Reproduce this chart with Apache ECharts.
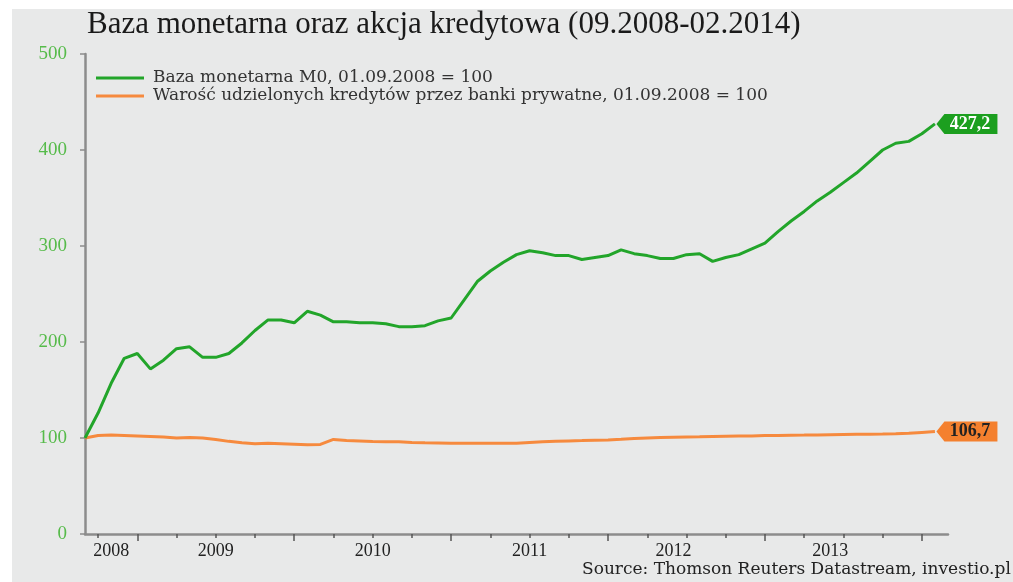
<!DOCTYPE html>
<html>
<head>
<meta charset="utf-8">
<script src="https://cdn.jsdelivr.net/npm/echarts@6/dist/echarts.min.js"></script>
<style>
  html, body { margin: 0; padding: 0; background: #fff; }
  #chart { width: 1013px; height: 582px; }
</style>
</head>
<body>
<div id="chart"></div>
<script>
// months, one point each, 09.2008 - 02.2014 (+ one empty month so the axis runs on)
const months = [
  "2008-09", "2008-10", "2008-11", "2008-12",
  "2009-01", "2009-02", "2009-03", "2009-04", "2009-05", "2009-06", "2009-07", "2009-08", "2009-09", "2009-10", "2009-11", "2009-12",
  "2010-01", "2010-02", "2010-03", "2010-04", "2010-05", "2010-06", "2010-07", "2010-08", "2010-09", "2010-10", "2010-11", "2010-12",
  "2011-01", "2011-02", "2011-03", "2011-04", "2011-05", "2011-06", "2011-07", "2011-08", "2011-09", "2011-10", "2011-11", "2011-12",
  "2012-01", "2012-02", "2012-03", "2012-04", "2012-05", "2012-06", "2012-07", "2012-08", "2012-09", "2012-10", "2012-11", "2012-12",
  "2013-01", "2013-02", "2013-03", "2013-04", "2013-05", "2013-06", "2013-07", "2013-08", "2013-09", "2013-10", "2013-11", "2013-12",
  "2014-01", "2014-02", "2014-03"
];

// Baza monetarna M0, 01.09.2008 = 100
const m0Values = [
  100, 126, 157, 183, 188, 172, 181, 193, 195, 184,
  184, 188, 199, 212, 223, 223, 220, 232, 228, 221,
  221, 220, 220, 219, 216, 216, 217, 222, 225, 244,
  263, 274, 283, 291, 295, 293, 290, 290, 286, 288,
  290, 296, 292, 290, 287, 287, 291, 292, 284, 288,
  291, 297, 303, 315, 326, 336, 347, 356, 366, 376,
  388, 400, 407, 409, 417, 427.2
];

// kredyty banków prywatnych, 01.09.2008 = 100
const creditValues = [
  100, 102.5, 103, 102.5, 102, 101.5, 101, 100, 100.5, 100,
  98.5, 96.5, 95, 94, 94.5, 94, 93.5, 93, 93.3, 98.5,
  97.5, 97, 96.3, 96, 96, 95.3, 95, 94.8, 94.6, 94.5,
  94.5, 94.5, 94.5, 94.6, 95.3, 96, 96.5, 97, 97.3, 97.7,
  98, 98.7, 99.5, 100, 100.5, 100.8, 101, 101.2, 101.5, 101.8,
  102, 102.2, 102.5, 102.7, 102.9, 103, 103.2, 103.4, 103.6, 103.8,
  104, 104.2, 104.5, 104.9, 105.8, 106.7
];

const seriesNames = [
  "Baza monetarna M0, 01.09.2008 = 100",
  "Warość udzielonych kredytów przez banki prywatne, 01.09.2008 = 100"
];

// where the year labels sit on the month axis
const yearLabelMonths = ["2008-11", "2009-07", "2010-07", "2011-07", "2012-06", "2013-06"];
const yTicks = [0, 100, 200, 300, 400, 500];

const GREEN = "#22a52a";
const ORANGE = "#f68a3e";
const AXIS_GRAY = "#8c8c8c";
const SERIF = "'Liberation Serif', 'DejaVu Serif', serif";

const tagPath = "path://M0,10 L8,0 L61,0 L61,20 L8,20 Z";

function endTag(values, fill, textColor) {
  const last = values.length - 1;
  return {
    silent: true,
    animation: false,
    symbol: tagPath,
    symbolSize: [61, 20],
    symbolKeepAspect: false,
    symbolOffset: [32, 0],
    itemStyle: { color: fill },
    label: {
      show: true,
      position: "inside",
      offset: [3, 0],
      formatter: (p) => p.value.toFixed(1).replace(".", ","),
      fontFamily: SERIF,
      fontSize: 18,
      fontWeight: "bold",
      color: textColor,
    },
    data: [{ coord: [months[last], values[last]], value: values[last] }],
  };
}

const chart = echarts.init(document.getElementById("chart"), null, { renderer: "canvas" });

const option = {
  animation: false,
  backgroundColor: "#e8e9e9",
  graphic: [
    { type: "rect", left: 0, top: 0, z: -10, shape: { width: 12, height: 582 }, style: { fill: "#fff" } },
    { type: "rect", left: 0, top: 0, z: -10, shape: { width: 1013, height: 9 }, style: { fill: "#fff" } },
    {
      type: "text",
      left: 582,
      top: 561,
      style: {
        text: "Source: Thomson Reuters Datastream, investio.pl",
        fill: "#222",
        font: "17px 'DejaVu Serif', serif",
      },
    },
  ],
  title: {
    text: "Baza monetarna oraz akcja kredytowa (09.2008-02.2014)",
    left: 82,
    top: 4,
    textStyle: {
      fontFamily: SERIF,
      fontSize: 31,
      fontWeight: "normal",
      color: "#1a1a1a",
    },
  },
  legend: {
    orient: "vertical",
    left: 91,
    top: 64,
    icon: "rect",
    itemWidth: 48,
    itemHeight: 3,
    itemGap: 0,
    data: seriesNames,
    textStyle: {
      fontFamily: "'DejaVu Serif', serif",
      fontSize: 17,
      lineHeight: 18,
      color: "#333",
      padding: [0, 0, 0, 4],
    },
  },
  grid: {
    left: 85,
    right: 65,
    top: 54,
    bottom: 48,
    containLabel: false,
  },
  xAxis: [
    {
      type: "category",
      data: months,
      boundaryGap: false,
      axisLine: { show: true, lineStyle: { color: AXIS_GRAY, width: 2.5 } },
      axisTick: {
        show: true,
        length: 4,
        interval: (i, v) => ["01", "04", "07", "10"].includes(v.slice(5)),
        lineStyle: { color: "#555", width: 1.5 },
      },
      axisLabel: {
        interval: (i, v) => yearLabelMonths.includes(v),
        formatter: (v) => v.slice(0, 4),
        margin: 8,
        fontFamily: SERIF,
        fontSize: 18,
        color: "#222",
      },
      splitLine: { show: false },
    },
    {
      type: "category",
      data: months,
      boundaryGap: false,
      position: "bottom",
      axisLine: { show: false },
      axisTick: {
        show: true,
        length: 7,
        interval: (i, v) => v.slice(5) === "01",
        lineStyle: { color: "#555", width: 1.5 },
      },
      axisLabel: { show: false },
      splitLine: { show: false },
    },
  ],
  yAxis: {
    type: "value",
    min: yTicks[0],
    max: yTicks[yTicks.length - 1],
    interval: 100,
    axisLine: { show: true, lineStyle: { color: AXIS_GRAY, width: 2.5 } },
    axisTick: { show: true, length: 5, lineStyle: { color: AXIS_GRAY, width: 1.5 } },
    axisLabel: {
      margin: 18,
      fontFamily: SERIF,
      fontSize: 19,
      color: "#56bb4a",
    },
    splitLine: { show: false },
  },
  series: [
    {
      name: seriesNames[0],
      type: "line",
      data: m0Values,
      showSymbol: false,
      color: GREEN,
      lineStyle: { color: GREEN, width: 3 },
      z: 3,
      markPoint: endTag(m0Values, "#1c9f1f", "#fff"),
    },
    {
      name: seriesNames[1],
      type: "line",
      data: creditValues,
      showSymbol: false,
      color: ORANGE,
      lineStyle: { color: ORANGE, width: 3 },
      z: 2,
      markPoint: endTag(creditValues, "#f4802e", "#222"),
    },
  ],
};

chart.setOption(option);
</script>
</body>
</html>
